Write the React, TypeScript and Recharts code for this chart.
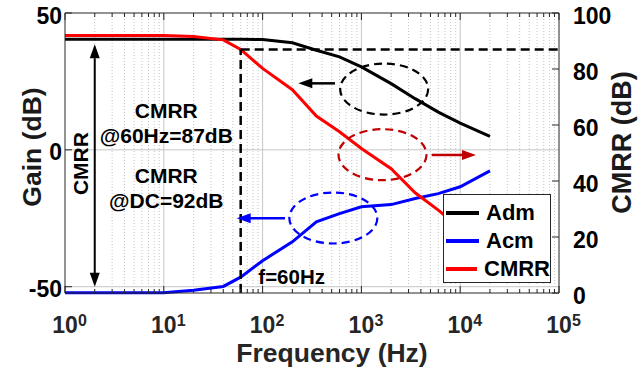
import React from "react";
import {
  ComposedChart,
  Line,
  XAxis,
  YAxis,
  CartesianGrid,
  Legend,
  ReferenceLine,
  ReferenceDot,
} from "recharts";

const FONT = '"Liberation Sans", Arial, Helvetica, sans-serif';

const W = 643;
const H = 379;
const PLOT_H = 280;

// sweep frequencies (Hz) and simulated responses (dB)
const freqs = [1, 10, 20, 40, 60, 100, 200, 350, 600, 1000, 2000, 3500, 6000, 10000, 20000];
const admDb = [40.4, 40.4, 40.4, 40.4, 40.4, 40.3, 39.1, 36.4, 34.0, 30.3, 24.2, 18.7, 13.8, 9.8, 4.9];
const acmDb = [-52.2, -52.2, -51.3, -49.9, -46.5, -40.5, -33.6, -26.3, -23.3, -20.8, -20.0, -17.8, -16.0, -13.5, -7.7];
const cmrrDb = [92, 92, 91.6, 90.4, 87, 80.2, 72.6, 63.2, 57.6, 51.6, 44.4, 35.8, 29.6, 23.2, 12.6];

const seriesOrder = ["Adm", "Acm", "CMRR"];

const decades = [1, 10, 100, 1000, 10000, 100000];
const minorSteps = [1, 2, 3, 4, 5, 6, 7, 8, 9];
const gainTicks = [-50, 0, 50];
const cmrrTicks = [0, 20, 40, 60, 80, 100];
const gainDomain = [-52.3, 50];
const cmrrDomain = [0, 100];

const CMRR_60HZ = 87;
const F_60HZ = 60;

const xTicks = decades
  .slice(0, -1)
  .flatMap((d) => minorSteps.map((m) => m * d))
  .concat([100000]);
const minorValues = xTicks.filter((v) => !decades.includes(v));
const innerDecades = decades.slice(1, -1);

const data = freqs.map((f, i) => ({
  f,
  adm: admDb[i],
  acm: acmDb[i],
  cmrr: cmrrDb[i],
}));

const GRID = "#c6c6c6";
const AXIS = "#262626";
const DARK_RED = "#c00000";

// inward ticks on bottom and top edges, decade labels as 10^n
function FreqTick({ x, y, payload }: any) {
  const v = payload.value as number;
  const major = decades.includes(v);
  const top = y - PLOT_H;
  const len = major ? 7 : 4;
  return (
    <g>
      <line x1={x} x2={x} y1={y} y2={y - len} stroke={AXIS} />
      <line x1={x} x2={x} y1={top} y2={top + len} stroke={AXIS} />
      {major && (
        <g fontFamily={FONT} fontWeight="bold" fill={AXIS}>
          <text x={x} y={y + 40} textAnchor="middle" fontSize={23}>
            10
          </text>
          <text x={x + 13} y={y + 33} fontSize={16}>
            {Math.round(Math.log10(v))}
          </text>
        </g>
      )}
    </g>
  );
}

function GainTick({ x, y, payload }: any) {
  const ax = x + 3;
  return (
    <g>
      <line x1={ax} x2={ax + 7} y1={y} y2={y} stroke={AXIS} />
      <text
        x={x}
        y={y + 10.5}
        textAnchor="end"
        fontSize={23}
        fontWeight="bold"
        fontFamily={FONT}
        fill="#000"
      >
        {payload.value}
      </text>
    </g>
  );
}

function CmrrTick({ x, y, payload }: any) {
  const ax = x - 14;
  return (
    <g>
      <line x1={ax} x2={ax - 7} y1={y} y2={y} stroke={AXIS} />
      <text
        x={x}
        y={y + 11}
        textAnchor="start"
        fontSize={23}
        fontWeight="bold"
        fontFamily={FONT}
        fill="#000"
      >
        {payload.value}
      </text>
    </g>
  );
}

// straight arrow with a filled head at the end (and optionally the start)
const arrow = (color: string, width: number, both = false) => (p: any) => {
  const { x1, y1, x2, y2 } = p;
  const len = Math.hypot(x2 - x1, y2 - y1) || 1;
  const ux = (x2 - x1) / len;
  const uy = (y2 - y1) / len;
  const hl = 14;
  const hw = 5;
  const head = (tx: number, ty: number, dx: number, dy: number) => {
    const bx = tx - dx * hl;
    const by = ty - dy * hl;
    return `${tx},${ty} ${bx - dy * hw},${by + dx * hw} ${bx + dy * hw},${by - dx * hw}`;
  };
  return (
    <g>
      <line
        x1={both ? x1 + ux * hl : x1}
        y1={both ? y1 + uy * hl : y1}
        x2={x2 - ux * hl + ux}
        y2={y2 - uy * hl + uy}
        stroke={color}
        strokeWidth={width}
      />
      <polygon points={head(x2, y2, ux, uy)} fill={color} stroke="none" />
      {both && <polygon points={head(x1, y1, -ux, -uy)} fill={color} stroke="none" />}
    </g>
  );
};

const dashedEllipse = (color: string) => (p: any) => (
  <ellipse
    cx={p.cx}
    cy={p.cy}
    rx={44}
    ry={25.5}
    fill="none"
    stroke={color}
    strokeWidth={2.2}
    strokeDasharray="8 5"
  />
);

const note =
  (text: string, size: number, anchor = "middle", rotate = false) =>
  (p: any) => (
    <text
      x={p.cx}
      y={p.cy}
      textAnchor={anchor}
      fontSize={size}
      fontWeight="bold"
      fontFamily={FONT}
      fill="#000"
      transform={rotate ? `rotate(-90 ${p.cx} ${p.cy})` : undefined}
    >
      {text}
    </text>
  );

// annotation text anchored in (frequency, gain) coordinates
const gainNotes = [
  { f: 10.6, v: 11.5, text: "CMRR", size: 21, anchor: "middle", rotate: false },
  { f: 10.6, v: 2.4, text: "@60Hz=87dB", size: 21, anchor: "middle", rotate: false },
  { f: 10.6, v: -12.2, text: "CMRR", size: 21, anchor: "middle", rotate: false },
  { f: 10.6, v: -21.4, text: "@DC=92dB", size: 21, anchor: "middle", rotate: false },
  { f: 90.5, v: -49.0, text: "f=60Hz", size: 20.5, anchor: "start", rotate: false },
  { f: 1.69, v: -5.0, text: "CMRR", size: 21, anchor: "middle", rotate: true },
];

function LegendBox({ payload }: any) {
  const items = [...(payload || [])].sort(
    (a: any, b: any) => seriesOrder.indexOf(a.value) - seriesOrder.indexOf(b.value)
  );
  return (
    <div
      style={{
        boxSizing: "border-box",
        width: 108,
        height: 89,
        border: `1px solid ${AXIS}`,
        background: "#fff",
        paddingTop: 4,
      }}
    >
      {items.map((item: any) => (
        <div key={item.value} style={{ display: "flex", alignItems: "center", height: 28 }}>
          <span
            style={{ display: "block", width: 33, height: 3.5, background: item.color, marginLeft: 2 }}
          />
          <span
            style={{
              marginLeft: 7,
              fontSize: 22,
              fontWeight: "bold",
              fontFamily: FONT,
              color: "#000",
              lineHeight: "28px",
            }}
          >
            {item.value}
          </span>
        </div>
      ))}
    </div>
  );
}

export default function App() {
  return (
    <div style={{ position: "absolute", left: 0, top: 0, width: W, height: H, background: "#fff" }}>
      <ComposedChart
        width={W}
        height={H}
        data={data}
        margin={{ top: 13, right: 24, bottom: 26, left: 10 }}
      >
        {/* minor decade grid (dotted) and major grid (solid) */}
        <CartesianGrid
          yAxisId="left"
          horizontal={false}
          verticalValues={minorValues}
          stroke={GRID}
          strokeDasharray="1 2"
        />
        <CartesianGrid
          yAxisId="left"
          verticalValues={innerDecades}
          horizontalValues={[0, -50]}
          stroke={GRID}
        />
        <XAxis
          dataKey="f"
          type="number"
          scale="log"
          domain={[1, 100000]}
          ticks={xTicks}
          interval={0}
          tickSize={0}
          tickMargin={0}
          tickLine={false}
          height={60}
          axisLine={{ stroke: AXIS }}
          tick={<FreqTick />}
        />
        <YAxis
          yAxisId="left"
          type="number"
          domain={gainDomain}
          ticks={gainTicks}
          interval={0}
          width={55}
          tickSize={0}
          tickMargin={3}
          tickLine={false}
          axisLine={{ stroke: AXIS }}
          tick={<GainTick />}
        />
        <YAxis
          yAxisId="right"
          orientation="right"
          type="number"
          domain={cmrrDomain}
          ticks={cmrrTicks}
          interval={0}
          width={60}
          tickSize={0}
          tickMargin={14}
          tickLine={false}
          axisLine={{ stroke: AXIS }}
          tick={<CmrrTick />}
        />
        <ReferenceLine yAxisId="left" y={50} stroke={AXIS} />

        <Line
          yAxisId="left"
          dataKey="adm"
          name="Adm"
          type="linear"
          stroke="#000000"
          strokeWidth={3}
          dot={false}
          activeDot={false}
          isAnimationActive={false}
        />
        <Line
          yAxisId="left"
          dataKey="acm"
          name="Acm"
          type="linear"
          stroke="#0000ff"
          strokeWidth={3}
          dot={false}
          activeDot={false}
          isAnimationActive={false}
        />
        <Line
          yAxisId="right"
          dataKey="cmrr"
          name="CMRR"
          type="linear"
          stroke="#ff0000"
          strokeWidth={3}
          dot={false}
          activeDot={false}
          isAnimationActive={false}
        />

        {/* CMRR at 60 Hz guide lines */}
        <ReferenceLine
          yAxisId="right"
          segment={[
            { x: F_60HZ, y: CMRR_60HZ },
            { x: 100000, y: CMRR_60HZ },
          ]}
          stroke="#000"
          strokeWidth={2.5}
          strokeDasharray="9 5"
          ifOverflow="visible"
        />
        <ReferenceLine
          yAxisId="right"
          segment={[
            { x: F_60HZ, y: 0 },
            { x: F_60HZ, y: CMRR_60HZ },
          ]}
          stroke="#000"
          strokeWidth={2.5}
          strokeDasharray="9 5"
          ifOverflow="visible"
        />

        {/* DC CMRR span */}
        <ReferenceLine
          yAxisId="left"
          segment={[
            { x: 2, y: 38.6 },
            { x: 2, y: -50 },
          ]}
          shape={arrow("#000", 2, true)}
          ifOverflow="visible"
        />

        {/* curve callouts */}
        <ReferenceDot yAxisId="left" x={1700} y={22.2} r={1} shape={dashedEllipse("#000")} ifOverflow="visible" />
        <ReferenceLine
          yAxisId="left"
          segment={[
            { x: 540, y: 24.3 },
            { x: 230, y: 24.3 },
          ]}
          shape={arrow("#000", 2.5)}
          ifOverflow="visible"
        />
        <ReferenceDot yAxisId="right" x={1635} y={49.4} r={1} shape={dashedEllipse(DARK_RED)} ifOverflow="visible" />
        <ReferenceLine
          yAxisId="right"
          segment={[
            { x: 5140, y: 49.3 },
            { x: 14450, y: 49.3 },
          ]}
          shape={arrow(DARK_RED, 2.5)}
          ifOverflow="visible"
        />
        <ReferenceDot yAxisId="left" x={520} y={-24.9} r={1} shape={dashedEllipse("#0000ff")} ifOverflow="visible" />
        <ReferenceLine
          yAxisId="left"
          segment={[
            { x: 168.6, y: -25.0 },
            { x: 54.7, y: -25.0 },
          ]}
          shape={arrow("#0000ff", 2.5)}
          ifOverflow="visible"
        />

        {gainNotes.map((n, i) => (
          <ReferenceDot
            key={i}
            yAxisId="left"
            x={n.f}
            y={n.v}
            r={1}
            shape={note(n.text, n.size, n.anchor, n.rotate)}
            ifOverflow="visible"
          />
        ))}

        <text
          x={41}
          y={147}
          transform="rotate(-90 41 147)"
          textAnchor="middle"
          fontSize={26.5}
          fontWeight="bold"
          fontFamily={FONT}
          fill="#1a1a1a"
        >
          Gain (dB)
        </text>
        <text
          x={631}
          y={142.5}
          transform="rotate(-90 631 142.5)"
          textAnchor="middle"
          fontSize={27}
          fontWeight="bold"
          fontFamily={FONT}
          fill="#1a1a1a"
        >
          CMRR (dB)
        </text>
        <text
          x={332}
          y={362}
          textAnchor="middle"
          fontSize={26.5}
          fontWeight="bold"
          fontFamily={FONT}
          fill={AXIS}
        >
          Frequency (Hz)
        </text>

        <Legend
          layout="vertical"
          align="center"
          verticalAlign="middle"
          content={<LegendBox />}
          wrapperStyle={{ left: 443, top: 194, width: 108, height: 89 }}
        />
      </ComposedChart>
    </div>
  );
}
